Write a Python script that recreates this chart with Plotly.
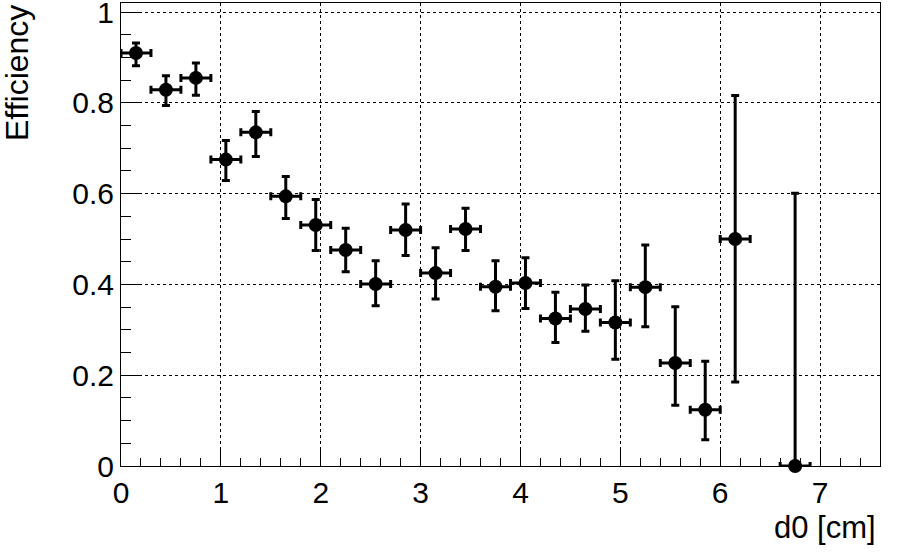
import plotly.graph_objects as go

# bin centres of the d0 histogram (0.3 cm bins), the 6.45 bin is empty
d0 = [0.15, 0.45, 0.75, 1.05, 1.35, 1.65, 1.95, 2.25, 2.55, 2.85, 3.15, 3.45,
      3.75, 4.05, 4.35, 4.65, 4.95, 5.25, 5.55, 5.85, 6.15, 6.75]
bin_half = [0.15] * len(d0)
eff = [0.910, 0.829, 0.855, 0.675, 0.735, 0.594, 0.531, 0.476, 0.401, 0.520, 0.425, 0.522,
       0.395, 0.403, 0.325, 0.346, 0.316, 0.394, 0.227, 0.124, 0.500, 0.000]
eff_up = [0.932, 0.860, 0.888, 0.717, 0.781, 0.638, 0.587, 0.524, 0.452, 0.577, 0.481, 0.568,
          0.452, 0.459, 0.383, 0.399, 0.408, 0.487, 0.351, 0.231, 0.816, 0.601]
eff_lo = [0.882, 0.794, 0.817, 0.629, 0.682, 0.545, 0.475, 0.428, 0.353, 0.464, 0.368, 0.475,
          0.342, 0.347, 0.272, 0.297, 0.235, 0.307, 0.134, 0.058, 0.185, 0.000]

err_plus = [u - e for u, e in zip(eff_up, eff)]
err_minus = [e - l for e, l in zip(eff, eff_lo)]

FONT = "Liberation Sans, Arial, Helvetica, sans-serif"

fig = go.Figure()
fig.add_trace(go.Scatter(
    x=d0, y=eff, mode="markers",
    marker=dict(color="black", size=14, symbol="circle"),
    error_y=dict(type="data", symmetric=False, array=err_plus, arrayminus=err_minus,
                 color="black", thickness=3, width=4),
    error_x=dict(type="data", array=bin_half, color="black", thickness=3, width=4),
    cliponaxis=False, showlegend=False,
))

axis_common = dict(
    showline=True, linecolor="black", linewidth=1, mirror=True,
    ticks="inside", tickcolor="black", tickwidth=1,
    showgrid=True, gridcolor="black", gridwidth=1, griddash="dot",
    zeroline=False, automargin=False, ticklabeloverflow="allow",
    tickfont=dict(family=FONT, size=30, color="black"),
)

fig.update_xaxes(range=[0, 7.6], dtick=1, tick0=0, ticklen=16,
                 minor=dict(dtick=0.2, ticklen=8, ticks="inside", tickcolor="black", showgrid=False),
                 **axis_common)
fig.update_yaxes(range=[0, 1.02], tickvals=[0, 0.2, 0.4, 0.6, 0.8, 1.0],
                 ticktext=["0", "0.2", "0.4", "0.6", "0.8", "1"], ticklen=20,
                 minor=dict(dtick=0.05, tick0=0, ticklen=10, ticks="inside", tickcolor="black", showgrid=False),
                 **axis_common)

fig.update_layout(
    width=899, height=554,
    margin=dict(l=121, r=19, t=3, b=88, autoexpand=False),
    plot_bgcolor="white", paper_bgcolor="white",
    font=dict(family=FONT, color="black"),
    annotations=[
        dict(text="Efficiency", textangle=-90, xref="paper", yref="paper",
             x=-0.137, y=1.0, xanchor="center", yanchor="top", showarrow=False,
             font=dict(family=FONT, size=32, color="black")),
        dict(text="d0 [cm]", xref="paper", yref="paper",
             x=0.998, y=-0.09, xanchor="right", yanchor="top", showarrow=False,
             font=dict(family=FONT, size=31, color="black")),
    ],
)

# drop the default 8px page margin so the figure sits at the window's corner
fig.write_html("out.html", config={"displayModeBar": False},
               post_script="document.body.style.margin='0px';")
